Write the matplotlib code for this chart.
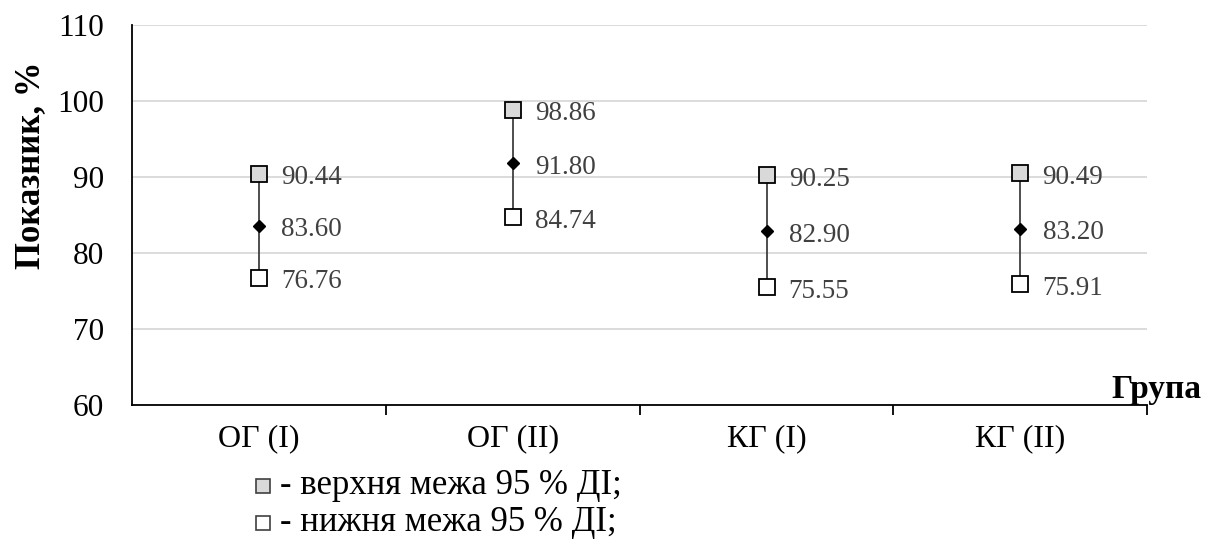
import matplotlib.pyplot as plt
from matplotlib.ticker import FixedLocator

plt.rcParams['font.family'] = ['Liberation Serif', 'DejaVu Serif']

groups = ['ОГ (І)', 'ОГ (ІІ)', 'КГ (І)', 'КГ (ІІ)']
upper = [90.44, 98.86, 90.25, 90.49]
mean = [83.60, 91.80, 82.90, 83.20]
lower = [76.76, 84.74, 75.55, 75.91]

fig = plt.figure(figsize=(12.09, 5.43), dpi=100)
ax = fig.add_axes([0.109, 0.254, 0.84, 0.7])

x = list(range(len(groups)))

# whiskers between the confidence limits
ax.vlines(x, lower, upper, color='#404040', lw=1.3, zorder=2)
ax.plot(x, upper, 's', ms=11, mfc='#d9d9d9', mec='black', mew=1.3, ls='none', zorder=3)
ax.plot(x, lower, 's', ms=11, mfc='white', mec='black', mew=1.3, ls='none', zorder=3)
ax.plot(x, mean, 'D', ms=6.5, color='black', ls='none', zorder=3)

for xi, vals in zip(x, zip(upper, mean, lower)):
    for v in vals:
        ax.annotate(f'{v:.2f}', (xi, v), xytext=(16, -3), textcoords='offset points',
                    va='center', ha='left', fontsize=19.5, color='#404040')

ax.set_xlim(-0.5, 3.5)
ax.set_ylim(60, 110)
ax.set_yticks(range(60, 111, 10))
ax.yaxis.grid(True, color='#d9d9d9', lw=1.3)
ax.set_axisbelow(True)
ax.tick_params(axis='y', length=0, pad=20, labelsize=22.5)

ax.set_xticks(x)
ax.set_xticklabels(groups)
ax.xaxis.set_minor_locator(FixedLocator([0.5, 1.5, 2.5, 3.5]))
ax.tick_params(axis='x', which='major', length=0, pad=14, labelsize=23)
ax.tick_params(axis='x', which='minor', length=7, width=1.3, direction='out')

for side in ['top', 'right']:
    ax.spines[side].set_visible(False)
for side in ['left', 'bottom']:
    ax.spines[side].set_linewidth(1.3)

fig.text(0.025, 0.695, 'Показник, %', fontsize=25, fontweight='bold', rotation=90,
         ha='center', va='center')
fig.text(0.994, 0.282, 'Група', fontsize=24, fontweight='bold', ha='right', va='center')

# legend drawn below the axes
leg = [('#d9d9d9', '- верхня межа 95 % ДІ;', 0.105), ('white', '- нижня межа 95 % ДІ;', 0.037)]
for fill, text, y in leg:
    fig.lines.append(plt.Line2D([0.2175], [y], marker='s', ms=10.5, mfc=fill, mec='#404040',
                                mew=1.2, ls='none', transform=fig.transFigure))
    fig.text(0.232, y, text, fontsize=25, va='center', ha='left')

fig.savefig('out.png', dpi=100)
